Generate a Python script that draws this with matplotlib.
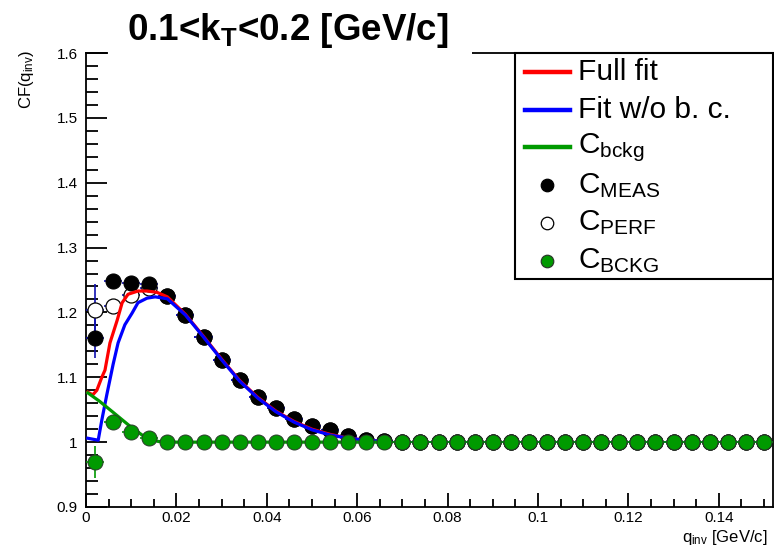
import numpy as np
import matplotlib
matplotlib.use('Agg')
import matplotlib.pyplot as plt
from matplotlib.patches import Rectangle
from matplotlib.lines import Line2D
from matplotlib.ticker import MultipleLocator, FuncFormatter

plt.rcParams['font.family'] = ['Liberation Sans', 'DejaVu Sans']
plt.rcParams['mathtext.fontset'] = 'custom'
plt.rcParams['mathtext.rm'] = 'Liberation Sans'
plt.rcParams['mathtext.it'] = 'Liberation Sans:italic'
plt.rcParams['mathtext.bf'] = 'Liberation Sans:bold'

# ---------------- data ----------------
q_centers = [0.002, 0.006, 0.010, 0.014, 0.018, 0.022, 0.026, 0.030, 0.034, 0.038,
             0.042, 0.046, 0.050, 0.054, 0.058, 0.062, 0.066, 0.070, 0.074, 0.078,
             0.082, 0.086, 0.090, 0.094, 0.098, 0.102, 0.106, 0.110, 0.114, 0.118,
             0.122, 0.126, 0.130, 0.134, 0.138, 0.142, 0.146, 0.150]
bin_half = 0.002

c_meas = [1.160, 1.248, 1.245, 1.244, 1.226, 1.196, 1.162, 1.127, 1.096, 1.070,
          1.052, 1.036, 1.025, 1.018, 1.010, 1.004, 1.001, 1.000, 1.000, 1.000,
          1.000, 1.000, 1.000, 1.000, 1.000, 1.000, 1.000, 1.000, 1.000, 1.000,
          1.000, 1.000, 1.000, 1.000, 1.000, 1.000, 1.000, 1.000]
c_meas_err = [0.030, 0.008, 0.006, 0.005, 0.004, 0.004, 0.003, 0.003, 0.003, 0.003,
              0.002, 0.002, 0.002, 0.002, 0.002, 0.002, 0.002, 0.002, 0.002, 0.002,
              0.002, 0.002, 0.002, 0.002, 0.002, 0.002, 0.002, 0.002, 0.002, 0.002,
              0.002, 0.002, 0.002, 0.002, 0.002, 0.002, 0.002, 0.002]

c_perf = [1.204, 1.210, 1.227, 1.238, 1.226, 1.196, 1.162, 1.127, 1.096, 1.070,
          1.052, 1.036, 1.025, 1.018, 1.010, 1.004, 1.001, 1.000, 1.000, 1.000,
          1.000, 1.000, 1.000, 1.000, 1.000, 1.000, 1.000, 1.000, 1.000, 1.000,
          1.000, 1.000, 1.000, 1.000, 1.000, 1.000, 1.000, 1.000]
c_perf_err = [0.040, 0.010, 0.007, 0.006, 0.005, 0.004, 0.004, 0.003, 0.003, 0.003,
              0.002, 0.002, 0.002, 0.002, 0.002, 0.002, 0.002, 0.002, 0.002, 0.002,
              0.002, 0.002, 0.002, 0.002, 0.002, 0.002, 0.002, 0.002, 0.002, 0.002,
              0.002, 0.002, 0.002, 0.002, 0.002, 0.002, 0.002, 0.002]

c_bckg_pts = [0.969, 1.031, 1.016, 1.006, 1.000, 1.000, 1.000, 1.000, 1.000, 1.000,
              1.000, 1.000, 1.000, 1.000, 1.000, 1.000, 1.000, 1.000, 1.000, 1.000,
              1.000, 1.000, 1.000, 1.000, 1.000, 1.000, 1.000, 1.000, 1.000, 1.000,
              1.000, 1.000, 1.000, 1.000, 1.000, 1.000, 1.000, 1.000]
c_bckg_err = [0.025, 0.006, 0.004, 0.003, 0.002, 0.002, 0.002, 0.002, 0.002, 0.002,
              0.002, 0.002, 0.002, 0.002, 0.002, 0.002, 0.002, 0.002, 0.002, 0.002,
              0.002, 0.002, 0.002, 0.002, 0.002, 0.002, 0.002, 0.002, 0.002, 0.002,
              0.002, 0.002, 0.002, 0.002, 0.002, 0.002, 0.002, 0.002]

full_fit_q = [0.0004, 0.0015, 0.0024, 0.0035, 0.0042, 0.0053, 0.0069, 0.0080, 0.0093,
              0.0115, 0.0135, 0.0157, 0.018, 0.022, 0.026, 0.030, 0.034, 0.038, 0.042,
              0.046, 0.050, 0.054, 0.058, 0.062, 0.066]
full_fit_cf = [1.077, 1.073, 1.080, 1.100, 1.111, 1.153, 1.188, 1.215, 1.228,
               1.233, 1.233, 1.231, 1.224, 1.197, 1.163, 1.128, 1.095, 1.069, 1.048,
               1.032, 1.020, 1.012, 1.006, 1.003, 1.001]

nobc_fit_q = [0.0004, 0.0027, 0.0035, 0.0046, 0.0060, 0.0071, 0.0086, 0.0102, 0.0115,
              0.0135, 0.0153, 0.018, 0.022, 0.026, 0.030, 0.034, 0.038, 0.042, 0.046,
              0.050, 0.054, 0.058, 0.062, 0.066]
nobc_fit_cf = [1.006, 1.003, 1.034, 1.073, 1.120, 1.153, 1.181, 1.199, 1.215,
               1.222, 1.224, 1.221, 1.196, 1.162, 1.127, 1.094, 1.068, 1.047, 1.031,
               1.019, 1.011, 1.006, 1.003, 1.001]

bckg_fit_q = [0.0004, 0.003, 0.006, 0.010, 0.013, 0.016, 0.020, 0.066]
bckg_fit_cf = [1.076, 1.063, 1.046, 1.023, 1.008, 1.001, 1.000, 1.000]

title = r'0.1<k$_{\mathbf{T}}$<0.2 [GeV/c]'
legend_labels = ['Full fit', 'Fit w/o b. c.', r'C$_{\mathrm{bckg}}$',
                 r'C$_{\mathrm{MEAS}}$', r'C$_{\mathrm{PERF}}$', r'C$_{\mathrm{BCKG}}$']

RED = '#ff0000'
BLUE = '#0000ff'
GREEN = '#009a00'
ERRBLUE = '#1010b0'

W, H = 774, 548
fig = plt.figure(figsize=(W / 100, H / 100), dpi=100)
ax = fig.add_axes([86 / W, 41 / H, 687 / W, 454 / H])

ms = 10.8
# C_PERF (open) below C_MEAS
ax.errorbar(q_centers, c_perf, yerr=c_perf_err, xerr=bin_half, fmt='o', ms=ms,
            mfc='white', mec='black', mew=0.9, ecolor=ERRBLUE, elinewidth=1.2,
            capsize=0, zorder=3)
ax.errorbar(q_centers, c_meas, yerr=c_meas_err, xerr=bin_half, fmt='o', ms=ms,
            mfc='black', mec='black', mew=0.8, ecolor=ERRBLUE, elinewidth=1.2,
            capsize=0, zorder=4)

# fits
ax.plot(full_fit_q, full_fit_cf, color=RED, lw=2.3, zorder=5)
ax.plot(nobc_fit_q, nobc_fit_cf, color=BLUE, lw=2.3, zorder=6)
ax.plot(bckg_fit_q, bckg_fit_cf, color=GREEN, lw=2.3, zorder=6)

ax.errorbar(q_centers, c_bckg_pts, yerr=c_bckg_err, xerr=bin_half, fmt='o', ms=ms,
            mfc=GREEN, mec='#2a3a2a', mew=0.7, ecolor=GREEN, elinewidth=1.2,
            capsize=0, zorder=7)

ax.set_xlim(0, 0.152)
ax.set_ylim(0.9, 1.6)
ax.xaxis.set_major_locator(MultipleLocator(0.02))
ax.xaxis.set_minor_locator(MultipleLocator(0.005))
ax.yaxis.set_major_locator(MultipleLocator(0.1))
ax.yaxis.set_minor_locator(MultipleLocator(0.02))
fmt = FuncFormatter(lambda v, p: '%g' % round(v, 4))
ax.xaxis.set_major_formatter(fmt)
ax.yaxis.set_major_formatter(fmt)
ax.tick_params(axis='both', which='both', direction='in', top=False, right=False,
               labelsize=11, width=1.3, color='black')
ax.tick_params(axis='x', which='major', length=10, pad=3)
ax.tick_params(axis='x', which='minor', length=5.8)
ax.tick_params(axis='y', which='major', length=15, pad=6)
ax.tick_params(axis='y', which='minor', length=8.6)
for s in ax.spines.values():
    s.set_linewidth(1.3)

# axis titles
fig.text(768 / W, 1 - 542 / H, r'q$_{\mathrm{inv}}$ [GeV/c]', ha='right',
         va='baseline', fontsize=12)
fig.text(26 / W, 1 - 50 / H, r'CF(q$_{\mathrm{inv}}$)', ha='center', va='top',
         rotation=90, fontsize=12)

# title box
fig.patches.append(Rectangle((108 / W, 1 - 55 / H), 364 / W, 55 / H,
                             transform=fig.transFigure, facecolor='white',
                             edgecolor='none', zorder=5))
fig.text(288 / W, 1 - 40 / H, title, ha='center', va='baseline', fontsize=26.5,
         fontweight='bold', zorder=6)

# legend box
lx0, ly0, lx1, ly1 = 515, 53, 773, 279
fig.patches.append(Rectangle((lx0 / W, 1 - ly1 / H), (lx1 - lx0) / W, (ly1 - ly0) / H,
                             transform=fig.transFigure, facecolor='white',
                             edgecolor='black', lw=1.5, zorder=5))
styles = [dict(kind='line', color=RED), dict(kind='line', color=BLUE),
          dict(kind='line', color=GREEN),
          dict(kind='marker', mfc='black', mec='black'),
          dict(kind='marker', mfc='white', mec='black'),
          dict(kind='marker', mfc=GREEN, mec='#2a3a2a')]
row0, drow = 72, 37.7
for i, (lab, st) in enumerate(zip(legend_labels, styles)):
    yc = 1 - (row0 + i * drow) / H
    if st['kind'] == 'line':
        fig.add_artist(Line2D([525 / W, 570 / W], [yc, yc], color=st['color'], lw=3.2,
                              transform=fig.transFigure, zorder=6))
    else:
        fig.add_artist(Line2D([547 / W], [yc], marker='o', ms=9, mfc=st['mfc'],
                              mec=st['mec'], mew=0.9, ls='none',
                              transform=fig.transFigure, zorder=6))
    fig.text(578 / W, yc, lab, ha='left', va='center', fontsize=21.5, zorder=7)

fig.savefig('out.png', dpi=100)
